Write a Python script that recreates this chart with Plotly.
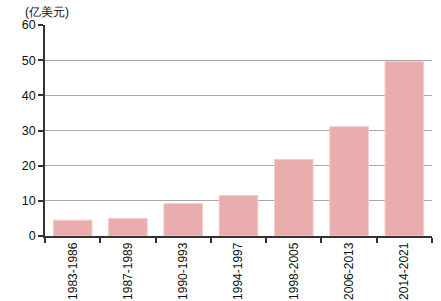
import plotly.graph_objects as go

periods = ["1983-1986", "1987-1989", "1990-1993", "1994-1997", "1998-2005", "2006-2013", "2014-2021"]
values = [4.5, 5.0, 9.2, 11.5, 21.8, 31.1, 49.6]
y_ticks = [0, 10, 20, 30, 40, 50, 60]
unit_label = "(亿美元)"

fig = go.Figure()
fig.add_trace(go.Bar(
    x=periods, y=values,
    marker=dict(color="#E8ADAC", line=dict(color="#F2CFCE", width=1)),
))

fig.update_layout(
    width=441, height=301,
    margin=dict(l=45, r=9, t=25, b=65),
    paper_bgcolor="white", plot_bgcolor="white",
    bargap=0.3,
    showlegend=False,
    font=dict(family="Liberation Sans, Arial, sans-serif", size=12, color="#111111"),
    xaxis=dict(
        type="category",
        tickangle=-90,
        automargin=False,
        showline=True, linecolor="#333333", linewidth=1.5,
        ticks="outside", ticklen=5, tickcolor="#333333", tickwidth=1.5,
        tickson="boundaries",
        showgrid=False,
        tickfont=dict(size=12),
    ),
    yaxis=dict(
        range=[0, 60],
        tickvals=y_ticks,
        automargin=False,
        showline=True, linecolor="#333333", linewidth=1.5,
        ticks="outside", ticklen=5, tickcolor="#333333", tickwidth=1.5,
        showgrid=True, gridcolor="#a8a8a8", gridwidth=1,
        zeroline=False,
        tickfont=dict(size=12.5),
    ),
    annotations=[dict(
        text=unit_label, xref="paper", yref="paper", x=-0.058, y=1.0,
        xanchor="left", yanchor="middle", yshift=13, showarrow=False,
        font=dict(size=12, color="#111111"),
    )],
)

fig.write_html("out.html")
